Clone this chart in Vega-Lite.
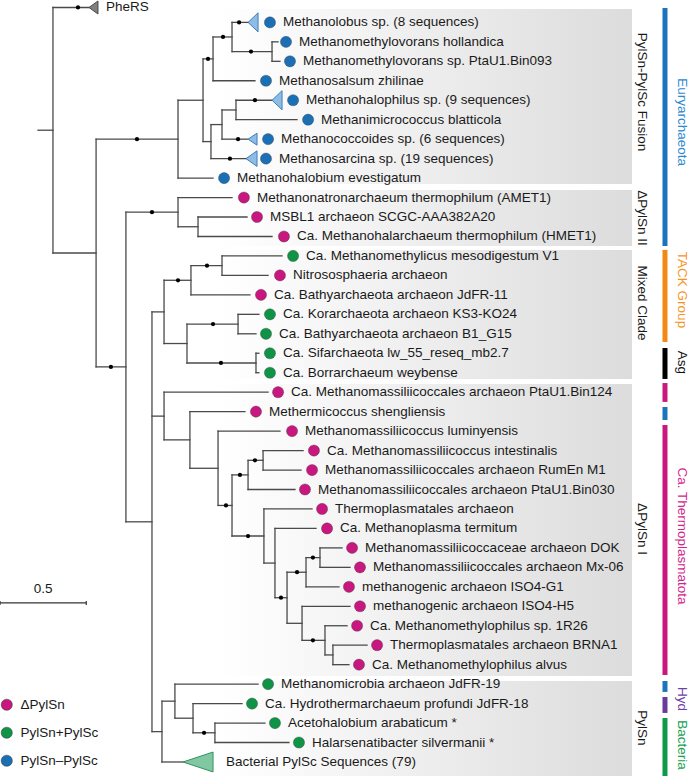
{
  "$schema": "https://vega.github.io/schema/vega-lite/v6.json",
  "width": 690,
  "height": 776,
  "padding": 0,
  "autosize": {"type": "none"},
  "background": "white",
  "config": {"view": {"stroke": null}, "font": "Liberation Sans"},
  "datasets": {
    "clades": [
      {"name": "PylSn-PylSc Fusion", "y": 0.31, "y2": 9.3, "ly": 4.58},
      {"name": "ΔPylSn II", "y": 9.61, "y2": 12.49, "ly": 11.05},
      {"name": "Mixed Clade", "y": 12.69, "y2": 19.32, "ly": 15.42},
      {"name": "ΔPylSn I", "y": 19.58, "y2": 34.58, "ly": 27.03},
      {"name": "PylSn", "y": 34.84, "y2": 39.72, "ly": 37.25}
    ],
    "taxbars": [
      {"taxon": "Euryarchaeota", "y": 0.26, "y2": 12.49},
      {"taxon": "TACK Group", "y": 12.69, "y2": 17.42},
      {"taxon": "Asg", "y": 17.73, "y2": 19.32},
      {"taxon": "Ca. Thermoplasmatota", "y": 19.53, "y2": 20.5},
      {"taxon": "Euryarchaeota", "y": 20.76, "y2": 21.43},
      {"taxon": "Ca. Thermoplasmatota", "y": 21.68, "y2": 34.53},
      {"taxon": "Euryarchaeota", "y": 34.84, "y2": 35.4},
      {"taxon": "Hyd", "y": 35.66, "y2": 36.48},
      {"taxon": "Bacteria", "y": 36.74, "y2": 39.72}
    ],
    "taxlabels": [
      {"taxon": "Euryarchaeota", "ly": 6.12},
      {"taxon": "TACK Group", "ly": 14.75},
      {"taxon": "Asg", "ly": 18.47},
      {"taxon": "Ca. Thermoplasmatota", "ly": 27.39},
      {"taxon": "Hyd", "ly": 35.76},
      {"taxon": "Bacteria", "ly": 38.13}
    ],
    "segments": [
      {"x": 0.22, "x2": 0.307, "y": 6.54, "y2": 6.54},
      {"x": 0.307, "x2": 0.516, "y": 0.235, "y2": 0.235},
      {"x": 0.307, "x2": 0.557, "y": 12.85, "y2": 12.85},
      {"x": 0.557, "x2": 1.032, "y": 7.0, "y2": 7.0},
      {"x": 0.557, "x2": 0.73, "y": 18.7, "y2": 18.7},
      {"x": 1.032, "x2": 1.177, "y": 5.0, "y2": 5.0},
      {"x": 1.032, "x2": 1.235, "y": 9, "y2": 9},
      {"x": 1.177, "x2": 1.235, "y": 2.875, "y2": 2.875},
      {"x": 1.177, "x2": 1.223, "y": 7.125, "y2": 7.125},
      {"x": 1.235, "x2": 1.345, "y": 1.75, "y2": 1.75},
      {"x": 1.235, "x2": 1.478, "y": 4, "y2": 4},
      {"x": 1.345, "x2": 1.438, "y": 1, "y2": 1},
      {"x": 1.345, "x2": 1.577, "y": 2.5, "y2": 2.5},
      {"x": 1.577, "x2": 1.612, "y": 2, "y2": 2},
      {"x": 1.577, "x2": 1.623, "y": 3, "y2": 3},
      {"x": 1.223, "x2": 1.287, "y": 6.25, "y2": 6.25},
      {"x": 1.223, "x2": 1.426, "y": 8, "y2": 8},
      {"x": 1.287, "x2": 1.368, "y": 5.5, "y2": 5.5},
      {"x": 1.287, "x2": 1.438, "y": 7, "y2": 7},
      {"x": 1.368, "x2": 1.577, "y": 5, "y2": 5},
      {"x": 1.368, "x2": 1.722, "y": 6, "y2": 6},
      {"x": 0.73, "x2": 1.032, "y": 10.75, "y2": 10.75},
      {"x": 0.73, "x2": 0.881, "y": 26.66, "y2": 26.66},
      {"x": 1.032, "x2": 1.345, "y": 10, "y2": 10},
      {"x": 1.032, "x2": 1.148, "y": 11.5, "y2": 11.5},
      {"x": 1.148, "x2": 1.432, "y": 11, "y2": 11},
      {"x": 1.148, "x2": 1.577, "y": 12, "y2": 12},
      {"x": 0.881, "x2": 0.951, "y": 15.875, "y2": 15.875},
      {"x": 0.881, "x2": 0.951, "y": 21.23, "y2": 21.23},
      {"x": 0.881, "x2": 0.939, "y": 37.44, "y2": 37.44},
      {"x": 0.951, "x2": 1.107, "y": 14.25, "y2": 14.25},
      {"x": 0.951, "x2": 1.084, "y": 17.5, "y2": 17.5},
      {"x": 1.107, "x2": 1.287, "y": 13.5, "y2": 13.5},
      {"x": 1.107, "x2": 1.449, "y": 15, "y2": 15},
      {"x": 1.287, "x2": 1.635, "y": 13, "y2": 13},
      {"x": 1.287, "x2": 1.554, "y": 14, "y2": 14},
      {"x": 1.084, "x2": 1.38, "y": 16.5, "y2": 16.5},
      {"x": 1.084, "x2": 1.484, "y": 18.5, "y2": 18.5},
      {"x": 1.38, "x2": 1.501, "y": 16, "y2": 16},
      {"x": 1.38, "x2": 1.484, "y": 17, "y2": 17},
      {"x": 1.484, "x2": 1.501, "y": 18, "y2": 18},
      {"x": 1.484, "x2": 1.501, "y": 19, "y2": 19},
      {"x": 0.951, "x2": 1.554, "y": 20, "y2": 20},
      {"x": 0.951, "x2": 1.101, "y": 22.45, "y2": 22.45},
      {"x": 1.101, "x2": 1.42, "y": 21, "y2": 21},
      {"x": 1.101, "x2": 1.264, "y": 23.91, "y2": 23.91},
      {"x": 1.264, "x2": 1.623, "y": 22, "y2": 22},
      {"x": 1.264, "x2": 1.345, "y": 25.82, "y2": 25.82},
      {"x": 1.345, "x2": 1.438, "y": 24.25, "y2": 24.25},
      {"x": 1.345, "x2": 1.53, "y": 27.39, "y2": 27.39},
      {"x": 1.438, "x2": 1.525, "y": 23.5, "y2": 23.5},
      {"x": 1.438, "x2": 1.71, "y": 25, "y2": 25},
      {"x": 1.525, "x2": 1.757, "y": 23, "y2": 23},
      {"x": 1.525, "x2": 1.745, "y": 24, "y2": 24},
      {"x": 1.53, "x2": 1.809, "y": 26, "y2": 26},
      {"x": 1.53, "x2": 1.594, "y": 28.78, "y2": 28.78},
      {"x": 1.594, "x2": 1.832, "y": 27, "y2": 27},
      {"x": 1.594, "x2": 1.664, "y": 30.56, "y2": 30.56},
      {"x": 1.664, "x2": 1.774, "y": 29.25, "y2": 29.25},
      {"x": 1.664, "x2": 1.751, "y": 31.875, "y2": 31.875},
      {"x": 1.774, "x2": 1.855, "y": 28.5, "y2": 28.5},
      {"x": 1.774, "x2": 1.965, "y": 30, "y2": 30},
      {"x": 1.855, "x2": 1.983, "y": 28, "y2": 28},
      {"x": 1.855, "x2": 2.029, "y": 29, "y2": 29},
      {"x": 1.751, "x2": 2.029, "y": 31, "y2": 31},
      {"x": 1.751, "x2": 1.884, "y": 32.75, "y2": 32.75},
      {"x": 1.884, "x2": 2.012, "y": 32, "y2": 32},
      {"x": 1.884, "x2": 1.93, "y": 33.5, "y2": 33.5},
      {"x": 1.93, "x2": 2.128, "y": 33, "y2": 33},
      {"x": 1.93, "x2": 2.023, "y": 34, "y2": 34},
      {"x": 0.939, "x2": 1.014, "y": 35.875, "y2": 35.875},
      {"x": 0.939, "x2": 1.061, "y": 39, "y2": 39},
      {"x": 1.014, "x2": 1.496, "y": 35, "y2": 35},
      {"x": 1.014, "x2": 1.119, "y": 36.75, "y2": 36.75},
      {"x": 1.119, "x2": 1.403, "y": 36, "y2": 36},
      {"x": 1.119, "x2": 1.246, "y": 37.5, "y2": 37.5},
      {"x": 1.246, "x2": 1.536, "y": 37, "y2": 37},
      {"x": 1.246, "x2": 1.675, "y": 38, "y2": 38},
      {"x": 0.307, "x2": 0.307, "y": 0.235, "y2": 12.85},
      {"x": 0.557, "x2": 0.557, "y": 7.0, "y2": 18.7},
      {"x": 1.032, "x2": 1.032, "y": 5.0, "y2": 9},
      {"x": 1.177, "x2": 1.177, "y": 2.875, "y2": 7.125},
      {"x": 1.235, "x2": 1.235, "y": 1.75, "y2": 4},
      {"x": 1.345, "x2": 1.345, "y": 1, "y2": 2.5},
      {"x": 1.577, "x2": 1.577, "y": 2, "y2": 3},
      {"x": 1.223, "x2": 1.223, "y": 6.25, "y2": 8},
      {"x": 1.287, "x2": 1.287, "y": 5.5, "y2": 7},
      {"x": 1.368, "x2": 1.368, "y": 5, "y2": 6},
      {"x": 0.73, "x2": 0.73, "y": 10.75, "y2": 26.66},
      {"x": 1.032, "x2": 1.032, "y": 10, "y2": 11.5},
      {"x": 1.148, "x2": 1.148, "y": 11, "y2": 12},
      {"x": 0.881, "x2": 0.881, "y": 15.875, "y2": 37.44},
      {"x": 0.951, "x2": 0.951, "y": 14.25, "y2": 17.5},
      {"x": 1.107, "x2": 1.107, "y": 13.5, "y2": 15},
      {"x": 1.287, "x2": 1.287, "y": 13, "y2": 14},
      {"x": 1.084, "x2": 1.084, "y": 16.5, "y2": 18.5},
      {"x": 1.38, "x2": 1.38, "y": 16, "y2": 17},
      {"x": 1.484, "x2": 1.484, "y": 18, "y2": 19},
      {"x": 0.951, "x2": 0.951, "y": 20, "y2": 22.45},
      {"x": 1.101, "x2": 1.101, "y": 21, "y2": 23.91},
      {"x": 1.264, "x2": 1.264, "y": 22, "y2": 25.82},
      {"x": 1.345, "x2": 1.345, "y": 24.25, "y2": 27.39},
      {"x": 1.438, "x2": 1.438, "y": 23.5, "y2": 25},
      {"x": 1.525, "x2": 1.525, "y": 23, "y2": 24},
      {"x": 1.53, "x2": 1.53, "y": 26, "y2": 28.78},
      {"x": 1.594, "x2": 1.594, "y": 27, "y2": 30.56},
      {"x": 1.664, "x2": 1.664, "y": 29.25, "y2": 31.875},
      {"x": 1.774, "x2": 1.774, "y": 28.5, "y2": 30},
      {"x": 1.855, "x2": 1.855, "y": 28, "y2": 29},
      {"x": 1.751, "x2": 1.751, "y": 31, "y2": 32.75},
      {"x": 1.884, "x2": 1.884, "y": 32, "y2": 33.5},
      {"x": 1.93, "x2": 1.93, "y": 33, "y2": 34},
      {"x": 0.939, "x2": 0.939, "y": 35.875, "y2": 39},
      {"x": 1.014, "x2": 1.014, "y": 35, "y2": 36.75},
      {"x": 1.119, "x2": 1.119, "y": 36, "y2": 37.5},
      {"x": 1.246, "x2": 1.246, "y": 37, "y2": 38}
    ],
    "triangles": [
      {"clade": "PheRS", "kind": "outgroup", "x": 0.516, "y": 0.235, "y2": 0.235},
      {"clade": "PheRS", "kind": "outgroup", "x": 0.568, "y": -0.1, "y2": 0.57},
      {"clade": "Methanolobus", "kind": "archaea", "x": 1.438, "y": 1, "y2": 1},
      {"clade": "Methanolobus", "kind": "archaea", "x": 1.496, "y": 0.51, "y2": 1.49},
      {"clade": "Methanohalophilus", "kind": "archaea", "x": 1.577, "y": 5, "y2": 5},
      {"clade": "Methanohalophilus", "kind": "archaea", "x": 1.635, "y": 4.51, "y2": 5.49},
      {"clade": "Methanococcoides", "kind": "archaea", "x": 1.438, "y": 7, "y2": 7},
      {"clade": "Methanococcoides", "kind": "archaea", "x": 1.49, "y": 6.69, "y2": 7.31},
      {"clade": "Methanosarcina", "kind": "archaea", "x": 1.426, "y": 8, "y2": 8},
      {"clade": "Methanosarcina", "kind": "archaea", "x": 1.49, "y": 7.6, "y2": 8.4},
      {"clade": "Bacterial", "kind": "bacteria", "x": 1.061, "y": 39, "y2": 39},
      {"clade": "Bacterial", "kind": "bacteria", "x": 1.235, "y": 38.49, "y2": 39.51}
    ],
    "supports": [
      {"x": 0.452, "y": 0.235}, {"x": 0.794, "y": 7.0}, {"x": 1.206, "y": 2.875},
      {"x": 1.293, "y": 1.75}, {"x": 1.386, "y": 1}, {"x": 1.455, "y": 2.5},
      {"x": 1.478, "y": 5}, {"x": 1.38, "y": 7}, {"x": 1.333, "y": 8},
      {"x": 0.643, "y": 18.7}, {"x": 0.881, "y": 10.75}, {"x": 1.032, "y": 14.25},
      {"x": 1.2, "y": 13.5}, {"x": 1.235, "y": 16.5}, {"x": 1.281, "y": 18.5},
      {"x": 1.31, "y": 25.82}, {"x": 1.391, "y": 24.25}, {"x": 1.478, "y": 23.5},
      {"x": 1.438, "y": 27.39}, {"x": 1.629, "y": 30.56}, {"x": 1.722, "y": 29.25},
      {"x": 1.814, "y": 28.5}, {"x": 1.814, "y": 32.75}, {"x": 1.183, "y": 37.5}
    ],
    "leaves": [
      {"name": "PheRS", "y": 0.235, "x": 0.539, "pyl": null},
      {"name": "Methanolobus sp. (8 sequences)", "y": 1, "x": 1.565, "pyl": "PylSn–PylSc"},
      {"name": "Methanomethylovorans hollandica", "y": 2, "x": 1.658, "pyl": "PylSn–PylSc"},
      {"name": "Methanomethylovorans sp. PtaU1.Bin093", "y": 3, "x": 1.681, "pyl": "PylSn–PylSc"},
      {"name": "Methanosalsum zhilinae", "y": 4, "x": 1.542, "pyl": "PylSn–PylSc"},
      {"name": "Methanohalophilus sp. (9 sequences)", "y": 5, "x": 1.699, "pyl": "PylSn–PylSc"},
      {"name": "Methanimicrococcus blatticola", "y": 6, "x": 1.786, "pyl": "PylSn–PylSc"},
      {"name": "Methanococcoides sp. (6 sequences)", "y": 7, "x": 1.554, "pyl": "PylSn–PylSc"},
      {"name": "Methanosarcina sp. (19 sequences)", "y": 8, "x": 1.542, "pyl": "PylSn–PylSc"},
      {"name": "Methanohalobium evestigatum", "y": 9, "x": 1.299, "pyl": "PylSn–PylSc"},
      {"name": "Methanonatronarchaeum thermophilum (AMET1)", "y": 10, "x": 1.414, "pyl": "ΔPylSn"},
      {"name": "MSBL1 archaeon SCGC-AAA382A20", "y": 11, "x": 1.49, "pyl": "ΔPylSn"},
      {"name": "Ca. Methanohalarchaeum thermophilum (HMET1)", "y": 12, "x": 1.646, "pyl": "ΔPylSn"},
      {"name": "Ca. Methanomethylicus mesodigestum V1", "y": 13, "x": 1.699, "pyl": "PylSn+PylSc"},
      {"name": "Nitrososphaeria archaeon", "y": 14, "x": 1.623, "pyl": "ΔPylSn"},
      {"name": "Ca. Bathyarchaeota archaeon JdFR-11", "y": 15, "x": 1.513, "pyl": "ΔPylSn"},
      {"name": "Ca. Korarchaeota archaeon KS3-KO24", "y": 16, "x": 1.565, "pyl": "PylSn+PylSc"},
      {"name": "Ca. Bathyarchaeota archaeon B1_G15", "y": 17, "x": 1.542, "pyl": "PylSn+PylSc"},
      {"name": "Ca. Sifarchaeota lw_55_reseq_mb2.7", "y": 18, "x": 1.565, "pyl": "PylSn+PylSc"},
      {"name": "Ca. Borrarchaeum weybense", "y": 19, "x": 1.565, "pyl": "PylSn+PylSc"},
      {"name": "Ca. Methanomassiliicoccales archaeon PtaU1.Bin124", "y": 20, "x": 1.612, "pyl": "ΔPylSn"},
      {"name": "Methermicoccus shengliensis", "y": 21, "x": 1.484, "pyl": "ΔPylSn"},
      {"name": "Methanomassiliicoccus luminyensis", "y": 22, "x": 1.693, "pyl": "ΔPylSn"},
      {"name": "Ca. Methanomassiliicoccus intestinalis", "y": 23, "x": 1.82, "pyl": "ΔPylSn"},
      {"name": "Methanomassiliicoccales archaeon RumEn M1", "y": 24, "x": 1.809, "pyl": "ΔPylSn"},
      {"name": "Methanomassiliicoccales archaeon PtaU1.Bin030", "y": 25, "x": 1.768, "pyl": "ΔPylSn"},
      {"name": "Thermoplasmatales archaeon", "y": 26, "x": 1.867, "pyl": "ΔPylSn"},
      {"name": "Ca. Methanoplasma termitum", "y": 27, "x": 1.896, "pyl": "ΔPylSn"},
      {"name": "Methanomassiliicoccaceae archaeon DOK", "y": 28, "x": 2.041, "pyl": "ΔPylSn"},
      {"name": "Methanomassiliicoccales archaeon Mx-06", "y": 29, "x": 2.087, "pyl": "ΔPylSn"},
      {"name": "methanogenic archaeon ISO4-G1", "y": 30, "x": 2.023, "pyl": "ΔPylSn"},
      {"name": "methanogenic archaeon ISO4-H5", "y": 31, "x": 2.087, "pyl": "ΔPylSn"},
      {"name": "Ca. Methanomethylophilus sp. 1R26", "y": 32, "x": 2.07, "pyl": "ΔPylSn"},
      {"name": "Thermoplasmatales archaeon BRNA1", "y": 33, "x": 2.186, "pyl": "ΔPylSn"},
      {"name": "Ca. Methanomethylophilus alvus", "y": 34, "x": 2.081, "pyl": "ΔPylSn"},
      {"name": "Methanomicrobia archaeon JdFR-19", "y": 35, "x": 1.554, "pyl": "PylSn+PylSc"},
      {"name": "Ca. Hydrothermarchaeum profundi JdFR-18", "y": 36, "x": 1.461, "pyl": "PylSn+PylSc"},
      {"name": "Acetohalobium arabaticum *", "y": 37, "x": 1.594, "pyl": "PylSn+PylSc"},
      {"name": "Halarsenatibacter silvermanii *", "y": 38, "x": 1.733, "pyl": "PylSn+PylSc"},
      {"name": "Bacterial PylSc Sequences (79)", "y": 39, "x": 1.235, "pyl": null}
    ],
    "scalebar": [
      {"x": 0, "x2": 0.5, "y": 30.83, "y2": 30.83},
      {"x": 0, "x2": 0, "y": 30.73, "y2": 30.93},
      {"x": 0.5, "x2": 0.5, "y": 30.73, "y2": 30.93}
    ],
    "scalelabel": [{"x": 0.25, "y": 30.11, "label": "0.5"}]
  },
  "layer": [
    {
      "data": {"name": "clades"},
      "mark": {"type": "rect", "color": {"gradient": "linear", "x1": 0, "y1": 0, "x2": 1, "y2": 0, "stops": [{"offset": 0, "color": "#ffffff"}, {"offset": 0.35, "color": "#f3f3f3"}, {"offset": 1, "color": "#dcdcdc"}]}},
      "encoding": {
        "x": {"datum": 1.275, "type": "quantitative", "scale": {"domain": [0, 4], "nice": false, "zero": false}, "axis": null},
        "x2": {"datum": 3.664},
        "y": {"field": "y", "type": "quantitative", "scale": {"domain": [-0.15, 39.72], "reverse": true, "nice": false, "zero": false}, "axis": null},
        "y2": {"field": "y2"}
      }
    },
    {
      "data": {"name": "clades"},
      "mark": {"type": "text", "angle": 90, "align": "center", "baseline": "middle", "fontSize": 13.5, "font": "Liberation Sans", "color": "#1a1a1a"},
      "encoding": {
        "x": {"datum": 3.722, "type": "quantitative"},
        "y": {"field": "ly", "type": "quantitative"},
        "text": {"field": "name"}
      }
    },
    {
      "data": {"name": "taxbars"},
      "mark": {"type": "rule", "strokeWidth": 5},
      "encoding": {
        "x": {"datum": 3.855, "type": "quantitative"},
        "y": {"field": "y", "type": "quantitative"},
        "y2": {"field": "y2"},
        "color": {"field": "taxon", "type": "nominal", "legend": null, "scale": {"domain": ["Euryarchaeota", "TACK Group", "Asg", "Ca. Thermoplasmatota", "Hyd", "Bacteria"], "range": ["#1c75bc", "#f08a12", "#000000", "#c9197e", "#6a3a9c", "#0f9a4a"]}}
      }
    },
    {
      "data": {"name": "taxlabels"},
      "mark": {"type": "text", "angle": 90, "align": "center", "baseline": "middle", "fontSize": 13.5, "font": "Liberation Sans"},
      "encoding": {
        "x": {"datum": 3.954, "type": "quantitative"},
        "y": {"field": "ly", "type": "quantitative"},
        "text": {"field": "taxon"},
        "color": {"field": "taxon", "type": "nominal", "legend": null, "scale": {"domain": ["Euryarchaeota", "TACK Group", "Asg", "Ca. Thermoplasmatota", "Hyd", "Bacteria"], "range": ["#2b89d0", "#f7941d", "#111111", "#d3248b", "#7040a8", "#14a050"]}}
      }
    },
    {
      "data": {"name": "segments"},
      "mark": {"type": "rule", "color": "#4a4a4a", "strokeWidth": 1.3, "strokeCap": "square"},
      "encoding": {
        "x": {"field": "x", "type": "quantitative"},
        "x2": {"field": "x2"},
        "y": {"field": "y", "type": "quantitative"},
        "y2": {"field": "y2"}
      }
    },
    {
      "data": {"name": "triangles"},
      "mark": {"type": "area", "orient": "vertical", "interpolate": "linear", "strokeWidth": 1},
      "encoding": {
        "x": {"field": "x", "type": "quantitative"},
        "y": {"field": "y", "type": "quantitative"},
        "y2": {"field": "y2"},
        "detail": {"field": "clade"},
        "fill": {"field": "kind", "type": "nominal", "legend": null, "scale": {"domain": ["outgroup", "archaea", "bacteria"], "range": ["#808080", "#8dbde6", "#80c8a2"]}},
        "stroke": {"field": "kind", "type": "nominal", "legend": null, "scale": {"domain": ["outgroup", "archaea", "bacteria"], "range": ["#4a4a4a", "#3f7fb5", "#3a8f62"]}}
      }
    },
    {
      "data": {"name": "supports"},
      "mark": {"type": "point", "filled": true, "size": 18, "color": "#000000", "opacity": 1},
      "encoding": {
        "x": {"field": "x", "type": "quantitative"},
        "y": {"field": "y", "type": "quantitative"}
      }
    },
    {
      "data": {"name": "leaves"},
      "transform": [{"filter": "datum.pyl != null"}],
      "mark": {"type": "point", "shape": "circle", "filled": true, "size": 125, "opacity": 1, "stroke": "#333333", "strokeWidth": 0.5, "strokeOpacity": 0.7},
      "encoding": {
        "x": {"field": "x", "type": "quantitative"},
        "y": {"field": "y", "type": "quantitative"},
        "color": {"field": "pyl", "type": "nominal", "scale": {"domain": ["ΔPylSn", "PylSn+PylSc", "PylSn–PylSc"], "range": ["#c8177f", "#0f9447", "#1b70b5"]},
          "legend": {"orient": "none", "legendX": 0, "legendY": 698, "title": null, "symbolType": "circle", "symbolSize": 125, "symbolOpacity": 1, "symbolStrokeWidth": 0.5, "symbolStrokeColor": "#333333", "labelFontSize": 13.5, "labelFont": "Liberation Sans", "labelColor": "#1a1a1a", "rowPadding": 13, "padding": 0, "labelOffset": 7}}
      }
    },
    {
      "data": {"name": "leaves"},
      "mark": {"type": "text", "align": "left", "baseline": "middle", "dx": 13, "fontSize": 13.5, "font": "Liberation Sans", "color": "#1a1a1a"},
      "encoding": {
        "x": {"field": "x", "type": "quantitative"},
        "y": {"field": "y", "type": "quantitative"},
        "text": {"field": "name"}
      }
    },
    {
      "data": {"name": "scalebar"},
      "mark": {"type": "rule", "color": "#333333", "strokeWidth": 1.2},
      "encoding": {
        "x": {"field": "x", "type": "quantitative"},
        "x2": {"field": "x2"},
        "y": {"field": "y", "type": "quantitative"},
        "y2": {"field": "y2"}
      }
    },
    {
      "data": {"name": "scalelabel"},
      "mark": {"type": "text", "align": "center", "baseline": "middle", "fontSize": 13.5, "font": "Liberation Sans", "color": "#1a1a1a"},
      "encoding": {
        "x": {"field": "x", "type": "quantitative"},
        "y": {"field": "y", "type": "quantitative"},
        "text": {"field": "label"}
      }
    }
  ],
  "resolve": {"scale": {"color": "independent", "fill": "independent", "stroke": "independent"}}
}
